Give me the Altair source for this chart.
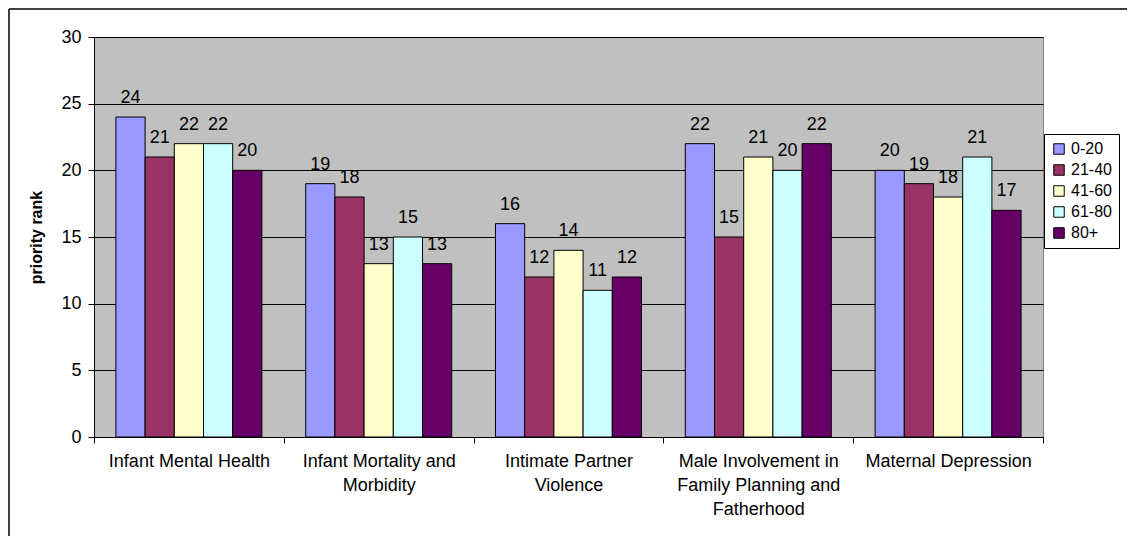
import altair as alt
import pandas as pd

categories = [
    "Infant Mental Health",
    "Infant Mortality and|Morbidity",
    "Intimate Partner|Violence",
    "Male Involvement in|Family Planning and|Fatherhood",
    "Maternal Depression",
]
groups = ["0-20", "21-40", "41-60", "61-80", "80+"]
colors = ["#9999FF", "#993366", "#FFFFCC", "#CCFFFF", "#660066"]

age_0_20 = [24, 19, 16, 22, 20]
age_21_40 = [21, 18, 12, 15, 19]
age_41_60 = [22, 13, 14, 21, 18]
age_61_80 = [22, 15, 11, 20, 21]
age_80p = [20, 13, 12, 22, 17]
series = [age_0_20, age_21_40, age_41_60, age_61_80, age_80p]
y_ticks = [0, 5, 10, 15, 20, 25, 30]

rows = []
for i, c in enumerate(categories):
    for g, vals in zip(groups, series):
        rows.append({"topic": c, "age": g, "rank": vals[i]})
df = pd.DataFrame(rows)

FONT = "Liberation Sans"

x = alt.X(
    "topic:N",
    sort=categories,
    title=None,
    scale=alt.Scale(paddingInner=0, paddingOuter=0),
    axis=alt.Axis(
        labelExpr="split(datum.label, '|')",
        labelAngle=0,
        tickBand="extent",
        labelFont=FONT,
        labelFontSize=18,
        labelLineHeight=24,
        labelBaseline="top",
        labelColor="black",
        labelLimit=400,
        tickSize=6,
        tickColor="black",
        labelPadding=9,
        domainColor="black",
        grid=False,
    ),
)
xo = alt.XOffset("age:N", sort=groups, scale=alt.Scale(paddingOuter=0.75, paddingInner=0))
y = alt.Y(
    "rank:Q",
    scale=alt.Scale(domain=[0, 30], nice=False),
    axis=alt.Axis(
        values=y_ticks,
        title="priority rank",
        titleFont=FONT,
        titleFontSize=16,
        titleFontWeight="bold",
        titleColor="black",
        titlePadding=16,
        labelFont=FONT,
        labelFontSize=18,
        labelColor="black",
        labelPadding=7,
        tickSize=6,
        tickColor="black",
        domainColor="black",
        gridColor="black",
        gridWidth=1,
    ),
)
color = alt.Color(
    "age:N",
    sort=groups,
    title=None,
    scale=alt.Scale(domain=groups, range=colors),
    legend=alt.Legend(
        orient="none",
        legendX=950,
        legendY=97,
        fillColor="white",
        strokeColor="black",
        padding=7,
        symbolType="square",
        symbolSize=110,
        symbolStrokeColor="black",
        symbolStrokeWidth=1,
        symbolOpacity=1,
        labelFont=FONT,
        labelFontSize=16,
        labelColor="black",
        rowPadding=5,
    ),
)

one = pd.DataFrame({"a": [0]})
frame_left = alt.Chart(one).mark_rule(color="black", strokeWidth=1.5).encode(
    x=alt.value(-85), y=alt.value(-28), y2=alt.value(700)
)
frame_top = alt.Chart(one).mark_rule(color="black", strokeWidth=1.5).encode(
    x=alt.value(-85), x2=alt.value(1200), y=alt.value(-28)
)

bars = alt.Chart(df).mark_bar(stroke="black", strokeWidth=1, opacity=1).encode(
    x=x, xOffset=xo, y=y, color=color
)
labels = alt.Chart(df).mark_text(
    baseline="alphabetic", dy=-14, fontSize=18, font=FONT, color="black"
).encode(x=x, xOffset=xo, y=y, text="rank:Q")

chart = (
    alt.layer(bars, labels, frame_left, frame_top)
    .properties(
        width=949,
        height=400,
        autosize="none",
        padding={"left": 86, "top": 29, "right": 84, "bottom": 99},
        background="white",
    )
    .configure_view(fill="#C0C0C0", stroke="#808080", strokeWidth=1)
)

chart.save("out.html", embed_options={"renderer": "svg", "actions": False})
